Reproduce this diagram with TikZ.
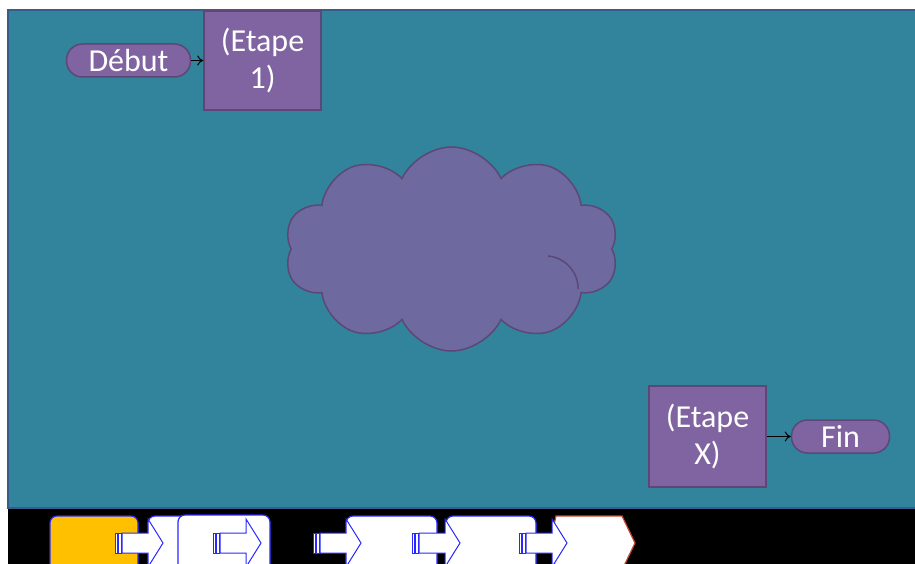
\documentclass[tikz,border=0pt]{standalone}
\usepackage{fontspec}
\setmainfont{Carlito}
\usepackage{tikz}
\usepackage{xcolor}
\usetikzlibrary{arrows.meta,positioning,shapes.symbols}
\definecolor{slideteal}{RGB}{49,132,155}
\definecolor{slideedge}{RGB}{56,93,138}
\definecolor{boxpurple}{RGB}{128,100,162}
\definecolor{boxedge}{RGB}{92,71,118}
\definecolor{cloudfill}{RGB}{110,106,160}
\definecolor{barorange}{RGB}{255,192,0}
\definecolor{barblue}{RGB}{40,40,255}
\definecolor{barred}{RGB}{200,70,50}

\begin{document}
\begin{tikzpicture}[x=1pt, y=-1pt, >={To[length=6pt,width=10pt]},
  every node/.style={font=\fontsize{32}{37}\selectfont, text=white},
  stepbox/.style={draw=boxedge, line width=1.5pt, fill=boxpurple, minimum width=117pt, align=center, inner sep=0pt},
  terminal/.style={draw=boxedge, line width=1.5pt, fill=boxpurple, rounded corners=16pt, minimum height=33pt, inner sep=0pt},
  barbox/.style={draw=barblue, line width=1.2pt, fill=white, rounded corners=7pt}]
\useasboundingbox (0,0) rectangle (915,564);
% slide background
\fill[white] (0,0) rectangle (915,564);
\draw[slideedge, line width=2pt, fill=slideteal] (8,10) rectangle (916,508);
\fill[black] (8,509) rectangle (915,564);

% steps
\node[stepbox, minimum height=99pt] (etape1) at (262.5,60.5) {(Etape\\1)};
\node[terminal, minimum width=124pt, left=12pt of etape1] (debut) {Début};
\node[stepbox, minimum height=101pt] (etapex) at (707.5,436.5) {(Etape\\X)};
\node[terminal, minimum width=98pt, right=24pt of etapex] (fin) {Fin};
\draw[->, line width=1pt] (debut) -- (etape1);
\draw[->, line width=1pt] (etapex) -- (fin);

% cloud
\node[cloud, cloud puffs=10, cloud puff arc=130, aspect=1.65, draw=boxedge, line width=1.5pt,
  fill=cloudfill, minimum width=334pt, minimum height=204pt, inner sep=0pt] (nuage) at (451.5,249) {};
\draw[boxedge, line width=1.5pt] (548,256) arc[start angle=85, end angle=0, radius=33pt];

% bottom bar
\begin{scope}
\clip (8,509) rectangle (915,564);
\draw[barbox, fill=barorange] (50,516) rectangle (138,575);
\draw[barbox] (148,516) rectangle (200,575);
\draw[barbox] (178,515) rectangle (270,575);
\draw[barbox] (346,516) rectangle (437,575);
\draw[barbox] (446,516) rectangle (536,575);
\draw[draw=barred, line width=1.2pt, fill=white]
  (556,516) -- (622,516) -- (635,543) -- (622,570) -- (556,570) -- (550,543) -- cycle;
\foreach \ax in {115,213,313,412,519} {
  \draw[barblue, line width=1pt, fill=white] (\ax,533) rectangle ++(2,20);
  \draw[barblue, line width=1pt, fill=white] (\ax+3,533) rectangle ++(3,20);
  \draw[barblue, line width=1pt, fill=white]
    (\ax+7,533) -- (\ax+33,533) -- (\ax+33,519) -- (\ax+48,543) -- (\ax+33,567)
    -- (\ax+33,553) -- (\ax+7,553) -- cycle;
}
\end{scope}
\end{tikzpicture}
\end{document}
